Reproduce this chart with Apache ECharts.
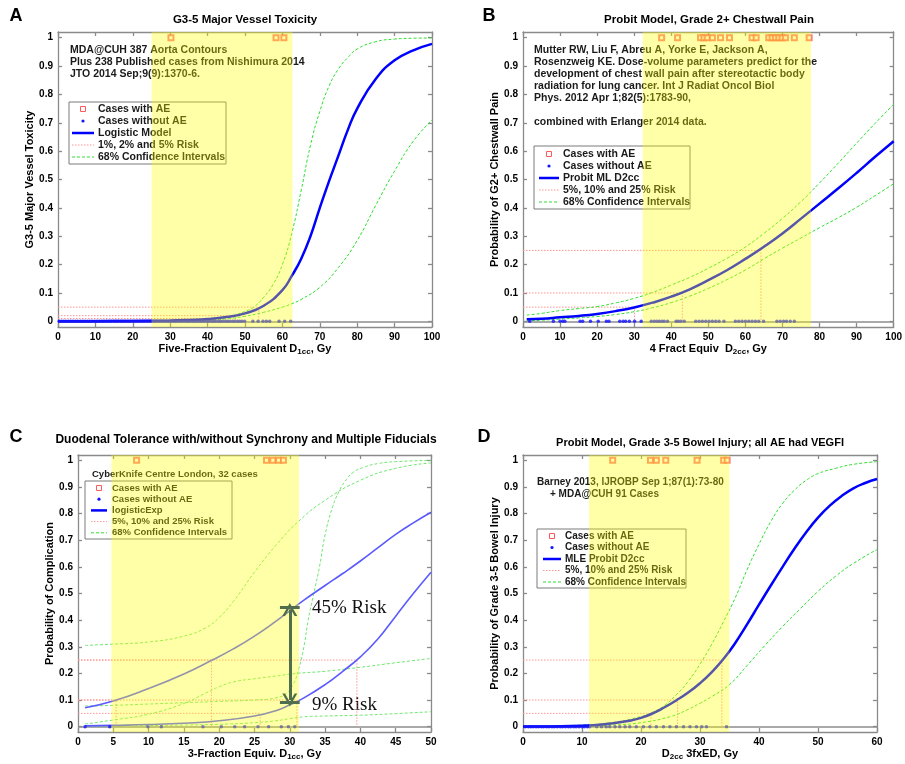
<!DOCTYPE html>
<html>
<head>
<meta charset="utf-8">
<script src="https://cdn.jsdelivr.net/npm/echarts@6/dist/echarts.min.js"></script>
<style>
  html, body { margin: 0; padding: 0; background: #fff; }
  #chart { width: 905px; height: 764px; }
</style>
</head>
<body>
<div id="chart"></div>
<script>
// ---------- panel A : G3-5 major vessel toxicity ----------
const aDoseFit = [0, 10, 20, 30, 35, 40, 45, 50, 55, 60, 62.5, 65, 67.5, 70, 72.5, 75, 77.5, 80, 85, 90, 95, 100];
const aProbFit = [0.0003, 0.0006, 0.0014, 0.003, 0.005, 0.008, 0.015, 0.028, 0.055, 0.11, 0.16, 0.22, 0.30, 0.40, 0.495, 0.585, 0.675, 0.75, 0.855, 0.92, 0.955, 0.978];
const aDoseUp = [0, 10, 20, 30, 35, 40, 45, 50, 52.5, 55, 57.5, 60, 62.5, 65, 67.5, 70, 72.5, 75, 77.5, 80, 85, 90, 95, 100];
const aProbUp = [0.0001, 0.0003, 0.0006, 0.001, 0.002, 0.005, 0.014, 0.035, 0.052, 0.085, 0.13, 0.20, 0.31, 0.46, 0.62, 0.74, 0.83, 0.89, 0.93, 0.96, 0.986, 0.995, 0.998, 0.999];
const aDoseLow = [0, 10, 20, 30, 40, 45, 50, 55, 60, 62.5, 65, 70, 75, 80, 85, 90, 95, 100];
const aProbLow = [0.0001, 0.0003, 0.0008, 0.002, 0.004, 0.009, 0.018, 0.032, 0.05, 0.062, 0.077, 0.12, 0.19, 0.285, 0.41, 0.53, 0.635, 0.71];
const aAE = [30.2, 58.3, 60.4];
const aNoAE = [0.3, 0.9, 1.5, 2.1, 2.8, 3.4, 4, 4.7, 5.3, 6, 6.6, 7.2, 7.9, 8.5, 9.1, 9.8, 10.4, 11, 11.7, 12.3, 13, 13.6,
  14.2, 14.9, 15.5, 16.1, 16.8, 17.4, 18, 18.7, 19.3, 20, 20.6, 21.2, 21.9, 22.5, 23.1, 23.8, 24.4, 25, 25.7, 26.3, 27,
  27.6, 28.2, 28.9, 29.5, 30.1, 30.8, 31.4, 32, 32.7, 33.3, 34, 34.6, 35.2, 35.9, 36.5, 37.1, 37.8, 38.4, 39, 39.7, 40.3,
  41, 41.6, 42.2, 42.9, 43.5, 44.1, 44.8, 45.4, 46, 46.7, 47.3, 48, 48.6, 49.2, 49.9, 52.1, 53.5, 54.8, 55.7, 56.6, 59.1, 60.6, 62.2];
const aRiskProb = [0.01, 0.02, 0.05];
const aRiskDose = [42, 47.5, 53.7];
const aBand = [25, 62.7];

// ---------- panel B : grade 2+ chest wall pain ----------
const bDose = [1, 5, 10, 15, 20, 25, 30, 35, 40, 45, 50, 55, 60, 65, 70, 75, 80, 85, 90, 95, 100];
const bProbFit = [0.007, 0.009, 0.014, 0.019, 0.026, 0.036, 0.049, 0.066, 0.087, 0.113, 0.145, 0.18, 0.22, 0.263, 0.31, 0.362, 0.415, 0.468, 0.523, 0.58, 0.635];
const bProbUp = [0.022, 0.028, 0.038, 0.045, 0.052, 0.065, 0.081, 0.102, 0.128, 0.155, 0.187, 0.222, 0.262, 0.31, 0.363, 0.422, 0.488, 0.557, 0.628, 0.698, 0.765];
const bProbLow = [0.002, 0.004, 0.008, 0.012, 0.017, 0.024, 0.034, 0.048, 0.066, 0.089, 0.116, 0.147, 0.181, 0.22, 0.258, 0.294, 0.33, 0.365, 0.402, 0.443, 0.485];
const bAE = [37.4, 41.7, 47.9, 48.8, 49.7, 51.1, 53.3, 55.7, 61.8, 62.9, 66.3, 67.2, 68.1, 69.0, 69.9, 70.8, 73.2, 77.2];
const bNoAE = [1.8, 8.2, 10.0, 10.7, 11.3, 15.4, 16.1, 18.2, 20.3, 22.5, 23.2, 26.1, 27.0, 27.7, 28.7, 30.1, 31.9, 34.6, 35.4,
  36.1, 36.8, 37.5, 38.1, 39.0, 41.3, 41.9, 42.6, 43.5, 46.6, 47.5, 48.4, 49.3, 50.2, 51.1, 52.0, 52.9, 54.2, 57.3, 58.2,
  59.1, 60.0, 60.9, 61.8, 62.7, 63.6, 64.9, 68.5, 69.4, 70.3, 71.1, 72.1, 73.2];
const bRiskProb = [0.05, 0.1, 0.25];
const bRiskDose = [30.1, 43, 64.2];
const bBand = [32.3, 77.7];

// ---------- panel C : duodenal tolerance ----------
const cDoseFit1 = [1, 5, 10, 15, 19, 22, 25, 28, 30, 32, 35, 37.5, 40, 42.5, 45, 47.5, 50];
const cProbFit1 = [0.071, 0.096, 0.143, 0.198, 0.25, 0.292, 0.34, 0.395, 0.435, 0.475, 0.53, 0.575, 0.622, 0.672, 0.722, 0.765, 0.805];
const cDoseFit2 = [1, 5, 10, 15, 20, 25, 28, 30, 32, 35, 37.5, 40, 42.5, 45, 47.5, 50];
const cProbFit2 = [0.003, 0.005, 0.008, 0.013, 0.022, 0.04, 0.06, 0.082, 0.108, 0.158, 0.208, 0.262, 0.33, 0.415, 0.5, 0.58];
const cDoseCi1 = [1, 5, 10, 15, 18, 20, 22, 25, 28, 31, 35, 40, 45, 50];
const cProbCi1 = [0.305, 0.31, 0.318, 0.34, 0.37, 0.41, 0.47, 0.58, 0.68, 0.765, 0.85, 0.925, 0.97, 0.99];
const cDoseCi2 = [1, 5, 10, 15, 20, 25, 28, 29.5, 30.5, 31.3, 32, 32.6, 33.4, 34.2, 35, 36, 37, 37.8, 39, 40.6, 42.5, 45, 50];
const cProbCi2 = [0.0775, 0.08, 0.085, 0.09, 0.095, 0.1, 0.108, 0.125, 0.16, 0.22, 0.3, 0.4, 0.5, 0.6, 0.72, 0.82, 0.885, 0.92, 0.955, 0.975, 0.988, 0.995, 1.0];
const cDoseCi3 = [1, 5, 10, 15, 18, 20, 22, 25, 28, 31, 35, 40, 45, 50];
const cProbCi3 = [0.01, 0.025, 0.047, 0.087, 0.125, 0.15, 0.168, 0.18, 0.19, 0.2, 0.208, 0.223, 0.24, 0.256];
const cDoseCi4 = [1, 5, 10, 15, 20, 25, 28, 30, 32, 35, 40, 45, 50];
const cProbCi4 = [0.002, 0.003, 0.004, 0.006, 0.009, 0.015, 0.022, 0.03, 0.037, 0.04, 0.043, 0.049, 0.056];
const cAE = [8.3, 26.7, 27.6, 28.4, 29.1];
const cNoAE = [1.0, 4.5, 9.9, 11.8, 17.7, 20.3, 22.2, 23.6, 25.5, 27.0, 28.8, 29.8, 30.7];
const cRiskProb = [0.1, 0.25, 0.05, 0.1, 0.25];
const cRiskDose = [5.4, 18.9, 25.8, 31, 39.5];
const cBand = [4.73, 31.3];

// ---------- panel D : grade 3-5 bowel injury ----------
const dDoseFit = [0, 5, 10, 15, 18, 20, 22, 24, 26, 28, 30, 32, 34, 36, 38, 40, 42, 44, 46, 48, 50, 52, 54, 56, 58, 60];
const dProbFit = [0.0005, 0.001, 0.003, 0.012, 0.022, 0.033, 0.05, 0.073, 0.099, 0.128, 0.163, 0.205, 0.255, 0.315, 0.385, 0.458, 0.53, 0.6, 0.668, 0.73, 0.785, 0.83, 0.866, 0.895, 0.915, 0.93];
const dDoseUp = [0, 5, 10, 15, 20, 22, 24, 26, 28, 30, 32, 34, 36, 38, 40, 42, 44, 46, 48, 50, 53, 56, 60];
const dProbUp = [0.002, 0.003, 0.006, 0.015, 0.038, 0.055, 0.08, 0.12, 0.17, 0.235, 0.31, 0.395, 0.485, 0.59, 0.685, 0.77, 0.838, 0.888, 0.925, 0.95, 0.97, 0.985, 0.995];
const dDoseLow = [0, 5, 10, 15, 20, 25, 28, 30, 32, 35, 38, 41, 44, 47, 50, 53, 56, 60];
const dProbLow = [0.0002, 0.0005, 0.002, 0.006, 0.015, 0.038, 0.065, 0.088, 0.113, 0.158, 0.23, 0.305, 0.376, 0.443, 0.508, 0.565, 0.613, 0.665];
const dAE = [15.2, 21.6, 22.6, 24.2, 29.5, 34.0, 34.6];
const dNoAE = [0.4, 0.9, 1.3, 1.7, 2.2, 2.6, 3.1, 3.5, 4, 4.4, 4.9, 5.3, 5.8, 6.3, 6.7, 7.2, 7.7, 8.1, 8.6, 9, 9.5, 10, 10.4,
  10.9, 11.3, 12.5, 13.3, 14.1, 14.7, 15.6, 16.4, 17.3, 18.1, 19.2, 20.4, 21.5, 22.6, 23.8, 24.9, 26.0, 27.2, 28.3, 29.4, 30.3, 31.1, 34.5];
const dRiskProb = [0.05, 0.1, 0.25];
const dRiskDose = [21.7, 26.2, 33.7];
const dBand = [11.2, 35.0];

const yTicks = [0, 0.1, 0.2, 0.3, 0.4, 0.5, 0.6, 0.7, 0.8, 0.9, 1];

const FONT = '"Liberation Sans", Arial, sans-serif';

function pairs(xs, ys) { return xs.map((x, i) => [x, ys[i]]); }
function atY(xs, y) { return xs.map(x => [x, y]); }

const panels = [
  {
    grid: { left: 58, top: 32, width: 374, height: 295 }, xMax: 100, xStep: 10,
    xName: 'Five-Fraction Equivalent D{s|1cc}, Gy', yName: 'G3-5 Major Vessel Toxicity',
    fits: [pairs(aDoseFit, aProbFit)], cis: [pairs(aDoseUp, aProbUp), pairs(aDoseLow, aProbLow)],
    ae: aAE, noAE: aNoAE, riskProb: aRiskProb, riskDose: aRiskDose, band: aBand,
    fitColor: '#0000ff', fitWidth: 2.5, ciColor: '#2ee02e'
  },
  {
    grid: { left: 523, top: 32, width: 373, height: 295 }, xMax: 100, xStep: 10,
    xName: '4 Fract Equiv  D{s|2cc}, Gy', yName: 'Probability of G2+ Chestwall Pain',
    fits: [pairs(bDose, bProbFit)], cis: [pairs(bDose, bProbUp), pairs(bDose, bProbLow)],
    ae: bAE, noAE: bNoAE, riskProb: bRiskProb, riskDose: bRiskDose, band: bBand,
    fitColor: '#0000ff', fitWidth: 2.5, ciColor: '#2ee02e'
  },
  {
    grid: { left: 78, top: 455, width: 353, height: 277 }, xMax: 50, xStep: 5,
    xName: '3-Fraction Equiv. D{s|1cc}, Gy', yName: 'Probability of Complication',
    fits: [pairs(cDoseFit1, cProbFit1), pairs(cDoseFit2, cProbFit2)],
    cis: [pairs(cDoseCi1, cProbCi1), pairs(cDoseCi2, cProbCi2), pairs(cDoseCi3, cProbCi3), pairs(cDoseCi4, cProbCi4)],
    ae: cAE, noAE: cNoAE, riskProb: cRiskProb, riskDose: cRiskDose, band: cBand,
    fitColor: '#5a5aff', fitWidth: 1.6, ciColor: '#70e870'
  },
  {
    grid: { left: 523, top: 455, width: 354, height: 277 }, xMax: 60, xStep: 10,
    xName: 'D{s|2cc} 3fxED, Gy', yName: 'Probability of Grade 3-5 Bowel Injury',
    fits: [pairs(dDoseFit, dProbFit)], cis: [pairs(dDoseUp, dProbUp), pairs(dDoseLow, dProbLow)],
    ae: dAE, noAE: dNoAE, riskProb: dRiskProb, riskDose: dRiskDose, band: dBand,
    fitColor: '#0000ff', fitWidth: 2.5, ciColor: '#2ee02e'
  }
];

const frame = { color: '#8a8a8a', width: 1.3 };
const tickLabel = { color: '#000', fontWeight: 'bold', fontSize: 10, fontFamily: FONT };
const nameStyle = {
  color: '#000', fontWeight: 'bold', fontSize: 11, fontFamily: FONT,
  rich: { s: { fontSize: 8, fontWeight: 'bold', fontFamily: FONT, padding: [6, 0, 0, 0] } }
};

const grids = [], xAxes = [], yAxes = [], series = [];

panels.forEach((p, i) => {
  grids.push(Object.assign({ show: false }, p.grid));
  const xBase = {
    gridIndex: i, type: 'value', min: 0, max: p.xMax, interval: p.xStep,
    axisLine: { onZero: false, lineStyle: frame },
    axisTick: { inside: true, length: 4, lineStyle: frame },
    splitLine: { show: false }
  };
  xAxes[i] = Object.assign({}, xBase, {
    position: 'bottom', axisLabel: Object.assign({ margin: 5 }, tickLabel),
    name: p.xName, nameLocation: 'middle', nameGap: 15, nameTextStyle: nameStyle
  });
  xAxes[4 + i] = Object.assign({}, xBase, { position: 'top', axisLabel: { show: false } });
  const yBase = {
    gridIndex: i, type: 'value', min: -0.02, max: 1.02,
    axisLine: { onZero: false, lineStyle: frame },
    axisTick: { inside: true, length: 4, lineStyle: frame, customValues: yTicks },
    splitLine: { show: false }
  };
  yAxes[i] = Object.assign({}, yBase, {
    position: 'left', axisLabel: Object.assign({ margin: 5, customValues: yTicks }, tickLabel),
    name: p.yName, nameLocation: 'middle', nameGap: 17, nameTextStyle: nameStyle
  });
  yAxes[4 + i] = Object.assign({}, yBase, { position: 'right', axisLabel: { show: false } });

  const ax = { xAxisIndex: i, yAxisIndex: i };
  // zero line
  series.push(Object.assign({
    type: 'line', data: [], z: 1,
    markLine: {
      silent: true, z: 1, symbol: 'none', label: { show: false },
      lineStyle: { color: '#8c8c8c', width: 1.5, type: 'solid' }, data: [{ yAxis: 0 }]
    }
  }, ax));
  // risk levels
  p.riskDose.forEach((d, k) => {
    const r = p.riskProb[k];
    series.push(Object.assign({
      type: 'line', data: [[0, r], [d, r], [d, 0]], symbol: 'none', z: 2, silent: true,
      lineStyle: { color: '#ff9494', width: 1, type: [1.5, 1.5] }
    }, ax));
  });
  // confidence intervals
  p.cis.forEach(c => series.push(Object.assign({
    type: 'line', data: c, smooth: 0.5, symbol: 'none', z: 3,
    lineStyle: { color: p.ciColor, width: 1, type: [3, 2] }
  }, ax)));
  // fitted model
  p.fits.forEach(f => series.push(Object.assign({
    type: 'line', data: f, smooth: 0.5, symbol: 'none', z: 4,
    lineStyle: { color: p.fitColor, width: p.fitWidth }
  }, ax)));
  // cases
  series.push(Object.assign({
    type: 'scatter', data: atY(p.noAE, 0), symbol: 'circle', symbolSize: 3.5, z: 5,
    itemStyle: { color: '#1414ff' }
  }, ax));
  series.push(Object.assign({
    type: 'scatter', data: atY(p.ae, 1), symbol: 'emptyRect', symbolSize: 5, z: 5,
    itemStyle: { color: '#ff5a5a', borderColor: '#ff5a5a', borderWidth: 1 }
  }, ax));
  // translucent yellow dose band, on top of everything in the axes
  series.push(Object.assign({
    type: 'line', data: [], z: 10,
    markArea: {
      silent: true, z: 10, itemStyle: { color: 'rgba(255,255,0,0.34)' },
      data: [[{ xAxis: p.band[0] }, { xAxis: p.band[1] }]]
    }
  }, ax));
});

// double arrow in panel C
const chevron = 'path://M0,10 L5,0 L10,10 L8.2,10 L5,3.4 L1.8,10 Z';
series.push({
  type: 'line', data: [], xAxisIndex: 2, yAxisIndex: 2, z: 20,
  markLine: {
    silent: true, z: 20, label: { show: false }, symbolSize: [15, 13],
    lineStyle: { color: '#506e4d', width: 3, type: 'solid' },
    data: [
      [{ coord: [30, 0.1], symbol: chevron }, { coord: [30, 0.44], symbol: chevron }],
      [{ coord: [28.6, 0.45], symbol: 'none' }, { coord: [31.4, 0.45], symbol: 'none' }],
      [{ coord: [28.6, 0.09], symbol: 'none' }, { coord: [31.4, 0.09], symbol: 'none' }]
    ]
  }
});

// ---------- text, legends ----------
const graphics = [];
function txt(x, y, text, opt) {
  graphics.push({
    type: 'text', x: x, y: y, z: 1,
    style: Object.assign({ text: text, font: 'bold 10.5px ' + FONT, fill: '#1a1a1a', align: 'left', verticalAlign: 'middle' }, opt || {})
  });
}
function legend(box, y0, step, iconX, half, textX, fs, labels) {
  graphics.push({
    type: 'rect', z: 1, shape: { x: box[0], y: box[1], width: box[2], height: box[3] },
    style: { fill: '#fff', stroke: '#7a7a7a', lineWidth: 1 }
  });
  labels.forEach((lab, k) => {
    const y = y0 + step * k;
    if (k === 0) {
      graphics.push({ type: 'rect', z: 1, shape: { x: iconX - 2.5, y: y - 2.5, width: 5, height: 5 }, style: { fill: 'none', stroke: '#ff5a5a', lineWidth: 1 } });
    } else if (k === 1) {
      graphics.push({ type: 'circle', z: 1, shape: { cx: iconX, cy: y, r: 1.6 }, style: { fill: '#1414ff' } });
    } else {
      const st = k === 2 ? { stroke: '#0000ff', lineWidth: 2.5 }
        : k === 3 ? { stroke: '#ff9494', lineWidth: 1, lineDash: [1.5, 1.5] }
        : { stroke: '#2ee02e', lineWidth: 1, lineDash: [3, 2] };
      graphics.push({ type: 'line', z: 1, shape: { x1: iconX - half, y1: y, x2: iconX + half, y2: y }, style: st });
    }
    txt(textX, y, lab, { font: 'bold ' + fs + 'px ' + FONT });
  });
}

// panel letters and titles
const bigFont = 'bold 18px ' + FONT;
txt(16, 16, 'A', { font: bigFont, fill: '#000', align: 'center' });
txt(489, 16, 'B', { font: bigFont, fill: '#000', align: 'center' });
txt(16, 437, 'C', { font: bigFont, fill: '#000', align: 'center' });
txt(484, 437, 'D', { font: bigFont, fill: '#000', align: 'center' });
const titleFont = 'bold 11.5px ' + FONT;
txt(245, 20, 'G3-5 Major Vessel Toxicity', { font: titleFont, fill: '#000', align: 'center' });
txt(709, 20, 'Probit Model, Grade 2+ Chestwall Pain', { font: titleFont, fill: '#000', align: 'center' });
txt(246, 440, 'Duodenal Tolerance with/without Synchrony and Multiple Fiducials', { font: 'bold 12px ' + FONT, fill: '#000', align: 'center' });
txt(700, 443, 'Probit Model, Grade 3-5 Bowel Injury; all AE had VEGFI', { font: 'bold 11px ' + FONT, fill: '#000', align: 'center' });

// notes inside the axes
txt(70, 50, 'MDA@CUH 387 Aorta Contours');
txt(70, 62, 'Plus 238 Published cases from Nishimura 2014');
txt(70, 74, 'JTO 2014 Sep;9(9):1370-6.');
txt(534, 50, 'Mutter RW, Liu F, Abreu A, Yorke E, Jackson A,');
txt(534, 62, 'Rosenzweig KE. Dose-volume parameters predict for the');
txt(534, 74, 'development of chest wall pain after stereotactic body');
txt(534, 86, 'radiation for lung cancer. Int J Radiat Oncol Biol');
txt(534, 98, 'Phys. 2012 Apr 1;82(5):1783-90,');
txt(534, 122, 'combined with Erlanger 2014 data.');
txt(92, 474, 'CyberKnife Centre London, 32 cases', { font: 'bold 9.5px ' + FONT });
txt(537, 482, 'Barney 2013, IJROBP Sep 1;87(1):73-80', { font: 'bold 10px ' + FONT });
txt(550, 494, '+ MDA@CUH 91 Cases', { font: 'bold 10px ' + FONT });

legend([69, 102, 157, 62], 109, 12, 83, 11, 98, 10.5,
  ['Cases with AE', 'Cases without AE', 'Logistic Model', '1%, 2% and 5% Risk', '68% Confidence Intervals']);
legend([534, 146, 156, 63], 154, 12, 549, 10, 563, 10.5,
  ['Cases with AE', 'Cases without AE', 'Probit ML D2cc', '5%, 10% and 25% Risk', '68% Confidence Intervals']);
legend([85, 481, 147, 58], 488, 11.2, 99, 8, 112, 9.5,
  ['Cases with AE', 'Cases without AE', 'logisticExp', '5%, 10% and 25% Risk', '68% Confidence Intervals']);
legend([537, 529, 149, 59], 536, 11.5, 552, 9, 565, 10,
  ['Cases with AE', 'Cases without AE', 'MLE Probit D2cc', '5%, 10% and 25% Risk', '68% Confidence Intervals']);

// arrow captions
txt(312, 608, '45% Risk', { font: '19px "Liberation Serif", "Times New Roman", serif', fill: '#111' });
txt(312, 705, '9% Risk', { font: '19px "Liberation Serif", "Times New Roman", serif', fill: '#111' });

const chart = echarts.init(document.getElementById('chart'));
chart.setOption({
  animation: false,
  backgroundColor: '#fff',
  grid: grids,
  xAxis: xAxes,
  yAxis: yAxes,
  series: series,
  graphic: { elements: graphics }
});
</script>
</body>
</html>
